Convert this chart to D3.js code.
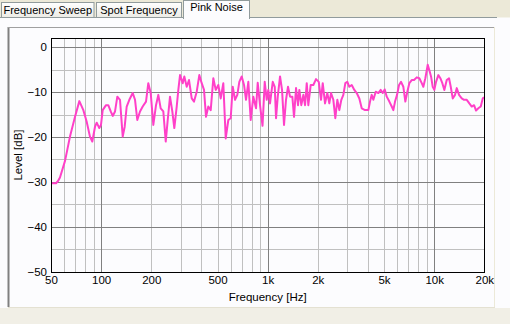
<!DOCTYPE html>
<html>
<head>
<meta charset="utf-8">
<script src="https://cdn.jsdelivr.net/npm/d3@7"></script>
<style>
body { margin: 0; background: #fcfcfe; overflow: hidden; }
svg { display: block; font-family: "Liberation Sans", Arial, sans-serif; }
</style>
</head>
<body>
<script>
"use strict";
const tabs = ["Frequency Sweep", "Spot Frequency", "Pink Noise"];
const freqs = [50, 53.6, 55.1, 56.6, 60.7, 65.0, 69.7, 74.0, 78.2, 81.9, 85.7, 88.5, 91.9, 94.1, 97.5, 99.8,
	102.2, 107, 110.4, 114.2, 117.4, 121.2, 125.1, 129.8, 134.8, 138.5, 142.4, 147.7, 154.8, 159.8, 164.9, 171.2,
	177.7, 186, 192, 198.5, 205.8, 213.6, 220.5, 227.9, 236.3, 244.3, 251.1, 259.2, 267.6, 275.1, 284.4, 290.8,
	297.7, 309, 315.9, 326.6, 337.1, 350, 361.3, 375, 388.7, 401.8, 414.8, 426.5, 440.2, 455.1, 471.8, 487.7,
	505.5, 522.6, 541.7, 560, 580.5, 600, 617, 636.9, 657.5, 675.9, 698.7, 721.3, 741.5, 765.5, 791.3, 820.3,
	851.5, 871.8, 900, 931.6, 960.4, 987.3, 1009, 1033, 1073, 1103, 1123, 1150, 1187, 1220, 1254, 1289,
	1325, 1363, 1407, 1440, 1481, 1522, 1550, 1593, 1638, 1677, 1717, 1755, 1814, 1881, 1952, 2027,
	2092, 2142, 2211, 2282, 2346, 2402, 2480, 2549, 2621, 2694, 2770, 2848, 2928, 3010, 3094, 3198,
	3316, 3427, 3553, 3673, 3844, 4024, 4119, 4217, 4312, 4457, 4621, 4776, 4910, 5048, 5190, 5380,
	5561, 5686, 5821, 5984, 6152, 6325, 6529, 6712, 6900, 7094, 7333, 7570, 7858, 8146, 8421, 8609,
	8850, 9149, 9354, 9576, 9804, 10023, 10261, 10593, 10890, 11195, 11509, 11898, 12283, 12575, 12927, 13345,
	13662, 14104, 14641, 15114, 15689, 16263, 16812, 17355, 17842, 18418, 19040, 19574, 19929];
const levels = [-30.3, -30.3, -29.8, -29.0, -25.3, -19.9, -15.5, -12.0, -14.0, -16.6, -19.9, -21.0, -17.7, -16.8, -18.0, -17.3,
	-14.0, -12.9, -12.9, -14.3, -15.3, -14.3, -11.0, -11.7, -19.9, -17.7, -13.2, -11.7, -10.2, -11.7, -16.2, -14.3,
	-13.2, -12.1, -8.0, -10.2, -17.3, -12.9, -10.6, -13.6, -14.3, -21.0, -16.2, -11.0, -14.3, -18.0, -13.2, -9.5,
	-6.2, -8.0, -6.5, -8.8, -7.3, -11.4, -12.1, -9.9, -6.2, -8.0, -9.5, -15.5, -13.2, -14.0, -6.9, -9.5,
	-8.4, -11.4, -8.0, -20.3, -16.2, -15.8, -8.8, -11.7, -10.6, -7.7, -6.5, -8.4, -11.7, -7.7, -16.2, -11.0,
	-13.6, -7.9, -12.9, -17.5, -7.7, -11.7, -9.5, -12.5, -7.7, -8.8, -15.8, -11.0, -6.5, -9.5, -17.3, -11.7,
	-8.8, -11.0, -11.0, -15.5, -9.1, -12.9, -9.5, -12.9, -10.6, -12.9, -8.0, -12.9, -8.4, -8.4, -7.1, -7.7,
	-11.7, -8.0, -12.5, -10.2, -12.5, -10.2, -11.7, -15.8, -11.7, -14.0, -11.7, -10.6, -8.0, -7.7, -8.8, -8.4,
	-9.5, -10.2, -11.4, -13.6, -14.0, -14.0, -12.1, -10.6, -11.7, -9.9, -10.2, -9.5, -10.2, -9.4, -11.0, -12.1,
	-13.2, -14.0, -12.1, -10.6, -8.4, -7.7, -8.8, -12.1, -9.9, -8.0, -7.3, -7.3, -6.7, -6.9, -8.0, -8.8,
	-6.9, -3.9, -5.1, -6.5, -8.8, -9.5, -7.7, -6.2, -6.9, -8.0, -9.5, -7.3, -6.9, -8.8, -11.4, -10.6,
	-9.1, -10.6, -11.4, -11.7, -11.7, -12.5, -13.2, -12.9, -14.1, -13.6, -13.2, -11.4, -11.1];
const xTicks = [50, 100, 200, 500, 1000, 2000, 5000, 10000, 20000];
const xTickLabels = ["50", "100", "200", "500", "1k", "2k", "5k", "10k", "20k"];
const yTicks = [0, -10, -20, -30, -40, -50];
const xMajor = [100, 1000, 10000];
const xMinor = [60, 70, 80, 90, 200, 300, 400, 500, 600, 700, 800, 900, 2000, 3000, 4000, 5000, 6000, 7000, 8000, 9000];
const yMajor = [0, -10, -20, -30, -40];
const yMinor = [-5, -15, -25, -35, -45];

const W = 510, H = 324;
const L = 51, R = 484.3, T = 38.3, B = 271.7;
const x = d3.scaleLog().domain([50, 20000]).range([L, R]);
const y = d3.scaleLinear().domain([-50, 2]).range([B, T]);
const px = v => Math.round(v) + 0.5;

const svg = d3.select("body").append("svg").attr("width", W).attr("height", H);

// window chrome
svg.append("rect").attr("width", W).attr("height", 17.5).attr("fill", "#ece9d8");
svg.append("rect").attr("y", 308).attr("width", W).attr("height", 16).attr("fill", "#f1efe6");
svg.append("line").attr("x1", 0).attr("x2", 497).attr("y1", 17.5).attr("y2", 17.5).attr("stroke", "#919b9c");
svg.append("line").attr("x1", 8.5).attr("x2", 8.5).attr("y1", 27).attr("y2", 307).attr("stroke", "#808080").attr("stroke-width", 2);
svg.append("line").attr("x1", 8).attr("x2", 494).attr("y1", 27.5).attr("y2", 27.5).attr("stroke", "#a0a0a0");
svg.append("line").attr("x1", 494.5).attr("x2", 494.5).attr("y1", 27).attr("y2", 307).attr("stroke", "#ece9d8");
svg.append("line").attr("x1", 8).attr("x2", 495).attr("y1", 307.5).attr("y2", 307.5).attr("stroke", "#e4e1d2");

const tabPos = [[1.5, 92.5], [96.5, 85], [183.5, 66]];
const grad = svg.append("defs").append("linearGradient").attr("id", "tabg").attr("x1", 0).attr("x2", 0).attr("y1", 0).attr("y2", 1);
grad.append("stop").attr("offset", 0).attr("stop-color", "#ffffff");
grad.append("stop").attr("offset", 1).attr("stop-color", "#ecebe5");
tabs.forEach((t, i) => {
	const sel = i === 2;
	svg.append("rect").attr("x", tabPos[i][0]).attr("y", sel ? 0.5 : 2.5).attr("width", tabPos[i][1]).attr("height", sel ? 18 : 15)
		.attr("fill", sel ? "#fcfcfe" : "url(#tabg)").attr("stroke", "#919b9c");
	svg.append("text").attr("x", tabPos[i][0] + tabPos[i][1] / 2).attr("y", sel ? 11 : 14).attr("text-anchor", "middle")
		.attr("font-size", "11px").attr("fill", "#000").text(t);
});
svg.append("rect").attr("x", 184).attr("y", 17).attr("width", 65).attr("height", 2).attr("fill", "#fcfcfe");

// grid
const g = svg.append("g").attr("shape-rendering", "crispEdges");
g.selectAll(".ymin").data(yMinor).enter().append("line")
	.attr("x1", L).attr("x2", R).attr("y1", d => px(y(d))).attr("y2", d => px(y(d))).attr("stroke", "#c0c0c0");
g.selectAll(".xmin").data(xMinor).enter().append("line")
	.attr("x1", d => px(x(d))).attr("x2", d => px(x(d))).attr("y1", T).attr("y2", B).attr("stroke", "#c0c0c0");
g.selectAll(".ymaj").data(yMajor).enter().append("line")
	.attr("x1", L).attr("x2", R).attr("y1", d => px(y(d))).attr("y2", d => px(y(d))).attr("stroke", "#808080");
g.selectAll(".xmaj").data(xMajor).enter().append("line")
	.attr("x1", d => px(x(d))).attr("x2", d => px(x(d))).attr("y1", T).attr("y2", B).attr("stroke", "#808080");

// curve
svg.append("clipPath").attr("id", "clip").append("rect").attr("x", L).attr("y", T).attr("width", R - L).attr("height", B - T);
const line = d3.line().x(d => x(d[0])).y(d => y(d[1]));
svg.append("path").datum(freqs.map((f, i) => [f, levels[i]])).attr("clip-path", "url(#clip)")
	.attr("d", line).attr("fill", "none").attr("stroke", "#ff40c8").attr("stroke-width", 2).attr("stroke-linejoin", "round");

svg.append("rect").attr("x", px(L)).attr("y", px(T)).attr("width", px(R) - px(L)).attr("height", px(B) - px(T))
	.attr("fill", "none").attr("stroke", "#000").attr("shape-rendering", "crispEdges");

// axes
const yAxis = d3.axisLeft(y).tickValues(yTicks).tickSize(0).tickPadding(4).tickFormat(d3.format("d"));
svg.append("g").attr("transform", "translate(" + L + ",0)").call(yAxis)
	.call(a => a.select(".domain").remove())
	.selectAll("text").attr("font-size", "11.5px").attr("fill", "#000").attr("font-family", "Liberation Sans, Arial, sans-serif");
const xAxis = d3.axisBottom(x).tickValues(xTicks).tickSize(0).tickPadding(4).tickFormat((d, i) => xTickLabels[i]);
svg.append("g").attr("transform", "translate(0," + B + ")").call(xAxis)
	.call(a => a.select(".domain").remove())
	.selectAll("text").attr("font-size", "11.5px").attr("fill", "#000").attr("font-family", "Liberation Sans, Arial, sans-serif");

svg.append("text").attr("x", (L + R) / 2).attr("y", 301).attr("text-anchor", "middle").attr("font-size", "11.5px").text("Frequency [Hz]");
svg.append("text").attr("transform", "translate(22," + ((T + B) / 2) + ") rotate(-90)").attr("text-anchor", "middle")
	.attr("font-size", "11.5px").text("Level [dB]");
</script>
</body>
</html>
